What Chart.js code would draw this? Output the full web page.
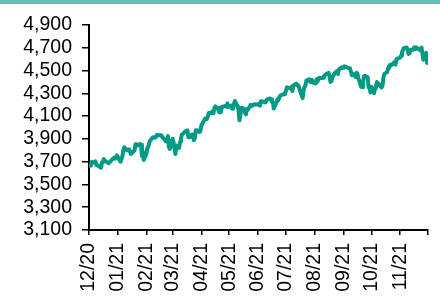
<!DOCTYPE html>
<html>
<head>
<meta charset="utf-8">
<script src="https://cdn.jsdelivr.net/npm/chart.js@4.4.0/dist/chart.umd.min.js"></script>
<style>
  body { margin: 0; background: #fff; }
  #wrap { position: relative; width: 440px; height: 296px; overflow: hidden; }
  #bar { position: absolute; left: 0; top: 0; width: 440px; height: 4px; background: #6db9b5; }
  canvas { position: absolute; left: 0; top: 0; }
</style>
</head>
<body>
<div id="wrap">
  <canvas id="chart" width="440" height="296"></canvas>
  <div id="bar"></div>
</div>
<script>
// Daily closing levels, Dec 2020 - Nov 2021
const dates = [
  '2020-12-01','2020-12-02','2020-12-03','2020-12-04','2020-12-07','2020-12-08','2020-12-09','2020-12-10','2020-12-11',
  '2020-12-14','2020-12-15','2020-12-16','2020-12-17','2020-12-18','2020-12-21','2020-12-22','2020-12-23','2020-12-24',
  '2020-12-28','2020-12-29','2020-12-30','2020-12-31',
  '2021-01-04','2021-01-05','2021-01-06','2021-01-07','2021-01-08','2021-01-11','2021-01-12','2021-01-13','2021-01-14',
  '2021-01-15','2021-01-19','2021-01-20','2021-01-21','2021-01-22','2021-01-25','2021-01-26','2021-01-27','2021-01-28','2021-01-29',
  '2021-02-01','2021-02-02','2021-02-03','2021-02-04','2021-02-05','2021-02-08','2021-02-09','2021-02-10','2021-02-11',
  '2021-02-12','2021-02-16','2021-02-17','2021-02-18','2021-02-19','2021-02-22','2021-02-23','2021-02-24','2021-02-25','2021-02-26',
  '2021-03-01','2021-03-02','2021-03-03','2021-03-04','2021-03-05','2021-03-08','2021-03-09','2021-03-10','2021-03-11',
  '2021-03-12','2021-03-15','2021-03-16','2021-03-17','2021-03-18','2021-03-19','2021-03-22','2021-03-23','2021-03-24',
  '2021-03-25','2021-03-26','2021-03-29','2021-03-30','2021-03-31',
  '2021-04-01','2021-04-05','2021-04-06','2021-04-07','2021-04-08','2021-04-09','2021-04-12','2021-04-13','2021-04-14',
  '2021-04-15','2021-04-16','2021-04-19','2021-04-20','2021-04-21','2021-04-22','2021-04-23','2021-04-26','2021-04-27',
  '2021-04-28','2021-04-29','2021-04-30',
  '2021-05-03','2021-05-04','2021-05-05','2021-05-06','2021-05-07','2021-05-10','2021-05-11','2021-05-12','2021-05-13',
  '2021-05-14','2021-05-17','2021-05-18','2021-05-19','2021-05-20','2021-05-21','2021-05-24','2021-05-25','2021-05-26',
  '2021-05-27','2021-05-28',
  '2021-06-01','2021-06-02','2021-06-03','2021-06-04','2021-06-07','2021-06-08','2021-06-09','2021-06-10','2021-06-11',
  '2021-06-14','2021-06-15','2021-06-16','2021-06-17','2021-06-18','2021-06-21','2021-06-22','2021-06-23','2021-06-24',
  '2021-06-25','2021-06-28','2021-06-29','2021-06-30',
  '2021-07-01','2021-07-02','2021-07-06','2021-07-07','2021-07-08','2021-07-09','2021-07-12','2021-07-13','2021-07-14',
  '2021-07-15','2021-07-16','2021-07-19','2021-07-20','2021-07-21','2021-07-22','2021-07-23','2021-07-26','2021-07-27',
  '2021-07-28','2021-07-29','2021-07-30',
  '2021-08-02','2021-08-03','2021-08-04','2021-08-05','2021-08-06','2021-08-09','2021-08-10','2021-08-11','2021-08-12',
  '2021-08-13','2021-08-16','2021-08-17','2021-08-18','2021-08-19','2021-08-20','2021-08-23','2021-08-24','2021-08-25',
  '2021-08-26','2021-08-27','2021-08-30','2021-08-31',
  '2021-09-01','2021-09-02','2021-09-03','2021-09-07','2021-09-08','2021-09-09','2021-09-10','2021-09-13','2021-09-14',
  '2021-09-15','2021-09-16','2021-09-17','2021-09-20','2021-09-21','2021-09-22','2021-09-23','2021-09-24','2021-09-27',
  '2021-09-28','2021-09-29','2021-09-30',
  '2021-10-01','2021-10-04','2021-10-05','2021-10-06','2021-10-07','2021-10-08','2021-10-11','2021-10-12','2021-10-13',
  '2021-10-14','2021-10-15','2021-10-18','2021-10-19','2021-10-20','2021-10-21','2021-10-22','2021-10-25','2021-10-26',
  '2021-10-27','2021-10-28','2021-10-29',
  '2021-11-01','2021-11-02','2021-11-03','2021-11-04','2021-11-05','2021-11-08','2021-11-09','2021-11-10','2021-11-11',
  '2021-11-12','2021-11-15','2021-11-16','2021-11-17','2021-11-18','2021-11-19','2021-11-22','2021-11-23','2021-11-24',
  '2021-11-26','2021-11-29','2021-11-30'
];

const closes = [
  3662,3669,3666,3699,3691,3702,3672,3668,3663,
  3647,3694,3701,3722,3709,3694,3687,3690,3703,
  3735,3727,3732,3756,
  3700,3726,3748,3804,3825,3799,3801,3809,3795,
  3768,3798,3852,3853,3841,3855,3849,3750,3787,3714,
  3774,3826,3830,3872,3887,3915,3911,3910,3916,
  3934,3933,3931,3913,3907,3877,3881,3925,3829,3811,
  3901,3870,3820,3768,3842,3821,3875,3899,3939,
  3943,3969,3962,3974,3915,3913,3940,3911,3889,
  3910,3975,3971,3959,3973,
  4020,4078,4074,4080,4097,4129,4128,4142,4125,
  4171,4185,4163,4135,4173,4135,4180,4188,4187,
  4183,4211,4181,
  4192,4165,4168,4202,4233,4189,4153,4063,4113,
  4174,4164,4128,4116,4160,4156,4198,4188,4195,
  4200,4204,
  4202,4208,4192,4230,4226,4227,4220,4239,4247,
  4255,4247,4224,4222,4166,4224,4246,4242,4266,
  4281,4291,4291,4298,
  4320,4352,4343,4358,4320,4370,4385,4369,4374,
  4360,4327,4258,4323,4359,4367,4412,4422,4401,
  4400,4419,4395,
  4387,4423,4402,4429,4437,4432,4436,4448,4460,
  4468,4479,4448,4400,4406,4442,4480,4486,4496,
  4470,4509,4529,4523,
  4524,4537,4535,4520,4514,4493,4459,4469,4443,
  4481,4474,4433,4358,4354,4396,4449,4455,4443,
  4353,4360,4308,
  4357,4301,4346,4363,4399,4391,4361,4351,4364,
  4438,4471,4486,4520,4537,4549,4545,4567,4575,
  4552,4596,4605,
  4614,4631,4660,4680,4697,4702,4685,4646,4649,
  4683,4682,4701,4688,4704,4698,4682,4691,4701,
  4595,4655,4567
];

// Month boundaries on the x axis and their labels
const tickDates = ['2020-12-01','2021-01-01','2021-02-01','2021-03-01','2021-04-01','2021-05-01','2021-06-01',
  '2021-07-01','2021-08-01','2021-09-01','2021-10-01','2021-11-01','2021-12-01'];
const tickLabels = ['12/20','01/21','02/21','03/21','04/21','05/21','06/21','07/21','08/21','09/21','10/21','11/21',''];

const yMin = 3100;
const yMax = 4900;
const yStep = 200;

const DAY = 86400000;
const origin = Date.parse(tickDates[0]);
const dayOf = d => (Date.parse(d) - origin) / DAY;

const points = dates.map((d, i) => ({ x: dayOf(d), y: closes[i] }));
const tickValues = tickDates.map(dayOf);

const font = { family: '"Liberation Sans", Arial, sans-serif', size: 19.5 };

new Chart(document.getElementById('chart'), {
    type: 'line',
    data: {
        datasets: [{
            data: points,
            borderColor: '#009a85',
            borderWidth: 4,
            borderJoinStyle: 'round',
            borderCapStyle: 'round',
            pointRadius: 0,
            tension: 0,
            fill: false
        }]
    },
    options: {
        responsive: false,
        animation: false,
        layout: { padding: { top: 25, right: 12, left: 0, bottom: 0 } },
        plugins: { legend: { display: false }, tooltip: { enabled: false } },
        scales: {
            x: {
                type: 'linear',
                min: tickValues[0],
                max: tickValues[tickValues.length - 1],
                afterBuildTicks: s => { s.ticks = tickValues.map(v => ({ value: v })); },
                afterFit: s => { s.height = 66; s.paddingLeft = 0; s.paddingRight = 0; },
                ticks: {
                    autoSkip: false,
                    minRotation: 90,
                    maxRotation: 90,
                    padding: 8,
                    color: '#000',
                    font: font,
                    callback: (v, i) => tickLabels[i]
                },
                grid: { drawOnChartArea: false, drawTicks: true, tickLength: 5, color: '#000', lineWidth: 1.5 },
                border: { display: true, color: '#000', width: 2 }
            },
            y: {
                min: yMin,
                max: yMax,
                afterFit: s => { s.width = 89; s.paddingTop = 0; s.paddingBottom = 0; },
                ticks: {
                    stepSize: yStep,
                    autoSkip: false,
                    padding: 10,
                    color: '#000',
                    font: font,
                    callback: v => v.toLocaleString('en-US')
                },
                grid: { drawOnChartArea: false, drawTicks: true, tickLength: 7, color: '#000', lineWidth: 1.5 },
                border: { display: true, color: '#000', width: 2 }
            }
        }
    }
});
</script>
</body>
</html>
